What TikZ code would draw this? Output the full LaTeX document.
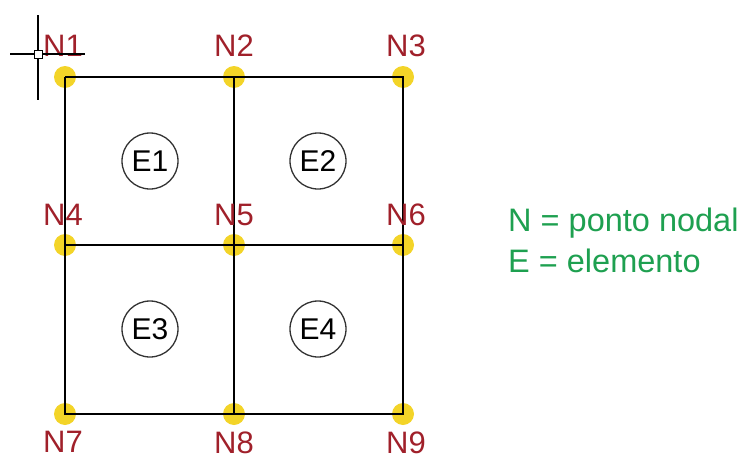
\documentclass[tikz,border=0pt]{standalone}
\usepackage{fontspec}
\setmainfont{Liberation Sans}
\definecolor{nodered}{RGB}{160, 32, 42}
\definecolor{dotyellow}{RGB}{243, 212, 40}
\definecolor{legendgreen}{RGB}{30, 160, 80}
\usetikzlibrary{positioning}

\begin{document}
\begin{tikzpicture}[x=1pt, y=-1pt,
                dot/.style={circle, fill=dotyellow, minimum size=22pt, inner sep=0pt},
                nlabel/.style={inner sep=0pt, text=nodered, font=\fontsize{31}{36}\selectfont},
                element/.style={circle, draw=black!80, line width=1.3pt, fill=white, minimum size=56pt, inner sep=0pt, font=\fontsize{30}{36}\selectfont},
                grid/.style={black, line width=1.4pt},
                legend/.style={inner sep=0pt, text=legendgreen, align=left, font=\fontsize{32.5}{41}\selectfont}
            ]%
            \useasboundingbox (0,0) rectangle (745,458);
            %
            % Pontos nodais
            \node[dot] (n1) at (65,77) {};
            \node[dot] (n2) at (234,77) {};
            \node[dot] (n3) at (403,77) {};
            \node[dot] (n4) at (65,245) {};
            \node[dot] (n5) at (234,245) {};
            \node[dot] (n6) at (403,245) {};
            \node[dot] (n7) at (65,414) {};
            \node[dot] (n8) at (234,414) {};
            \node[dot] (n9) at (403,414) {};
            %
            % Malha
            \draw[grid] (n1.center) -- (n2.center) -- (n3.center) -- (n6.center) -- (n9.center) -- (n8.center) -- (n7.center) -- (n4.center) -- (n1.center);
            \draw[grid] (n2.center) -- (n5.center) -- (n8.center);
            \draw[grid] (n4.center) -- (n5.center) -- (n6.center);
            %
            % Rótulos dos nós
            \node[nlabel, above=9pt of n1, xshift=-2pt] (l1) {N1};
            \node[nlabel, above=9pt of n2] (l2) {N2};
            \node[nlabel, above=9pt of n3, xshift=3pt] (l3) {N3};
            \node[nlabel, above=8pt of n4, xshift=-2pt] (l4) {N4};
            \node[nlabel, above=8pt of n5] (l5) {N5};
            \node[nlabel, above=8pt of n6, xshift=3pt] (l6) {N6};
            \node[nlabel, below=6pt of n7, xshift=-2pt] (l7) {N7};
            \node[nlabel, below=6pt of n8] (l8) {N8};
            \node[nlabel, below=6pt of n9, xshift=3pt] (l9) {N9};
            %
            % Elementos
            \node[element] (e1) at (150,161) {E1};
            \node[element] (e2) at (318,161) {E2};
            \node[element] (e3) at (150,329) {E3};
            \node[element] (e4) at (318,329) {E4};
            %
            % Legenda
            \node[legend, anchor=north west] (leg) at (508,208) {N = ponto nodal\\E = elemento};
            %
            % Cursor
            \draw[black, line width=1.2pt] (10,54) -- (85,54);
            \draw[black, line width=1.2pt] (38,15) -- (38,100);
            \draw[black, line width=1pt, fill=white] (34,50) rectangle (42,58);
        \end{tikzpicture}
\end{document}
